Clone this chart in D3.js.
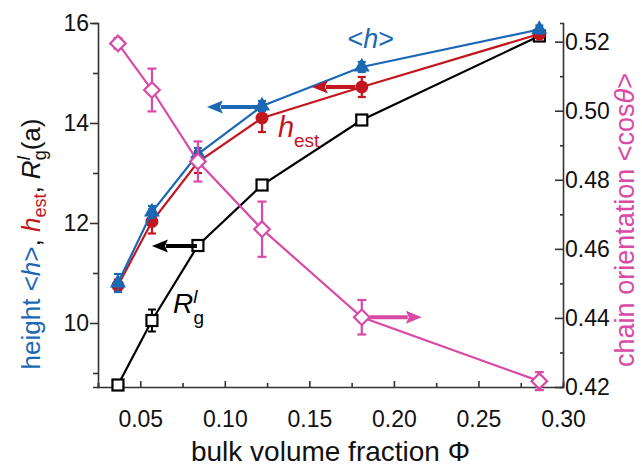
<!DOCTYPE html>
<html>
<head>
<meta charset="utf-8">
<script src="https://cdn.jsdelivr.net/npm/d3@7"></script>
<style>
  html, body { margin: 0; padding: 0; background: #fff; }
  svg { display: block; font-family: "Liberation Sans", Arial, Helvetica, sans-serif; }
</style>
</head>
<body>
<svg id="chart" width="642" height="468"></svg>
<script>
// Bulk volume fraction of each sample
const phi = [0.0368, 0.0569, 0.0841, 0.122, 0.181, 0.286];

// Left-axis series (height, in units of a)
const hMean   = [10.80, 12.22, 13.38, 14.34, 15.12, 15.87];
const hMeanErr = [0.18, 0.12, 0.12, 0.10, 0.10, 0.08];
const hEst    = [10.75, 12.03, 13.22, 14.10, 14.72, 15.78];
const hEstErr = [0.12, 0.24, 0.22, 0.28, 0.20, 0.08];
const rgPerp  = [8.76, 10.05, 11.55, 12.76, 14.06, 15.74];
const rgErr   = [0.04, 0.22, 0.05, 0.08, 0.10, 0.05];

// Right-axis series (chain orientation)
const cosTheta    = [0.5195, 0.5060, 0.4853, 0.4657, 0.4402, 0.4217];
const cosThetaErr = [0.0015, 0.0062, 0.0058, 0.0080, 0.0050, 0.0026];

// Tick values
const xMajor = [0.05, 0.10, 0.15, 0.20, 0.25, 0.30];
const xMinor = [0.025, 0.075, 0.125, 0.175, 0.225, 0.275];
const yLMajor = [10, 12, 14, 16];
const yLMinor = [9, 11, 13, 15];
const yRMajor = [0.42, 0.44, 0.46, 0.48, 0.50, 0.52];
const yRMinor = [0.43, 0.45, 0.47, 0.49, 0.51];

const BLUE = "#1b68b5", RED = "#c3161f", BLACK = "#000", PINK = "#d84aa6";

const svg = d3.select("#chart");
const x  = d3.scaleLinear().domain([0.025, 0.30]).range([98, 563]);
const yL = d3.scaleLinear().domain([8.72, 16]).range([387, 23]);
const yR = d3.scaleLinear().domain([0.42, 0.5254]).range([387, 23]);

const AXIS = "#333";

// ---- axes ----
function styleAxis(g) {
  g.select(".domain").attr("stroke", AXIS).attr("stroke-width", 1.6);
  g.selectAll(".tick line").attr("stroke", AXIS).attr("stroke-width", 1.6);
  g.selectAll(".tick text").attr("fill", "#111").style("font-size", "23px")
    .style("font-family", "'Liberation Sans', Arial, sans-serif");
}

// bottom axis: ticks point inward
const gx = svg.append("g").attr("transform", "translate(0,387)");
gx.call(d3.axisBottom(x).tickValues(xMinor).tickSize(-4).tickFormat(""))
  .call(styleAxis);
const gx2 = svg.append("g").attr("transform", "translate(0,387)");
gx2.call(d3.axisBottom(x).tickValues(xMajor).tickSize(-6).tickPadding(24).tickFormat(d3.format(".2f")))
  .call(styleAxis);
gx2.select(".domain").remove();

// left axis: ticks point outward
const gy = svg.append("g").attr("transform", "translate(98,0)");
gy.call(d3.axisLeft(yL).tickValues(yLMinor).tickSize(5).tickFormat("")).call(styleAxis);
const gy2 = svg.append("g").attr("transform", "translate(98,0)");
gy2.call(d3.axisLeft(yL).tickValues(yLMajor).tickSize(8).tickPadding(1).tickFormat(d3.format("d")))
  .call(styleAxis);
gy2.select(".domain").remove();

// right axis: ticks point inward, labels outside
const gr = svg.append("g").attr("transform", "translate(563,0)");
gr.call(d3.axisRight(yR).tickValues(yRMinor).tickSize(-3).tickFormat("")).call(styleAxis);
const gr2 = svg.append("g").attr("transform", "translate(563,0)");
gr2.call(d3.axisRight(yR).tickValues(yRMajor).tickSize(-8).tickPadding(2).tickFormat(d3.format(".2f")))
  .call(styleAxis);
gr2.select(".domain").remove();

// ---- axis titles ----
svg.append("text")
  .attr("x", (186 + 475) / 2).attr("y", 461)
  .attr("text-anchor", "middle").attr("fill", "#111")
  .style("font-size", "28px")
  .text("bulk volume fraction Φ");

const yTitle = svg.append("text")
  .attr("transform", "translate(40,244) rotate(-90)")
  .attr("text-anchor", "middle")
  .style("font-size", "26px");
yTitle.append("tspan").attr("fill", BLUE).text("height <");
yTitle.append("tspan").attr("fill", BLUE).style("font-style", "italic").text("h");
yTitle.append("tspan").attr("fill", BLUE).text(">");
yTitle.append("tspan").attr("fill", "#111").text(", ");
yTitle.append("tspan").attr("fill", RED).style("font-style", "italic").text("h");
yTitle.append("tspan").attr("fill", RED).attr("dy", 6).style("font-size", "18px").text("est");
yTitle.append("tspan").attr("fill", "#111").attr("dy", -6).text(", ");
yTitle.append("tspan").attr("fill", "#111").style("font-style", "italic").text("R");
yTitle.append("tspan").attr("fill", "#111").attr("dy", -10).style("font-size", "18px").style("font-style", "italic").text("l");
yTitle.append("tspan").attr("fill", "#111").attr("dx", -4).attr("dy", 16).style("font-size", "18px").text("g");
yTitle.append("tspan").attr("fill", "#111").attr("dy", -6).text("(a)");

const rTitle = svg.append("text")
  .attr("transform", "translate(634,220) rotate(-90)")
  .attr("text-anchor", "middle").attr("fill", PINK)
  .style("font-size", "27px");
rTitle.append("tspan").text("chain orientation <cos");
rTitle.append("tspan").style("font-style", "italic").text("θ");
rTitle.append("tspan").text(">");

// ---- series ----
const lineL = d3.line().x((d, i) => x(phi[i])).y(d => yL(d));
const lineR = d3.line().x((d, i) => x(phi[i])).y(d => yR(d));

function errorBars(vals, errs, yScale, color, cap, width) {
  const g = svg.append("g").attr("stroke", color).attr("stroke-width", width).attr("fill", "none");
  vals.forEach((v, i) => {
    const cx = x(phi[i]), y0 = yScale(v - errs[i]), y1 = yScale(v + errs[i]);
    g.append("line").attr("x1", cx).attr("x2", cx).attr("y1", y0).attr("y2", y1);
    g.append("line").attr("x1", cx - cap).attr("x2", cx + cap).attr("y1", y0).attr("y2", y0);
    g.append("line").attr("x1", cx - cap).attr("x2", cx + cap).attr("y1", y1).attr("y2", y1);
  });
}

// R_g (black open squares)
svg.append("path").datum(rgPerp).attr("d", lineL)
  .attr("fill", "none").attr("stroke", BLACK).attr("stroke-width", 2.2);
errorBars(rgPerp, rgErr, yL, BLACK, 4, 2);
svg.append("g").selectAll("rect").data(rgPerp).join("rect")
  .attr("x", (d, i) => x(phi[i]) - 5.5).attr("y", d => yL(d) - 5.5)
  .attr("width", 11).attr("height", 11)
  .attr("fill", "#fff").attr("stroke", BLACK).attr("stroke-width", 2.2);

// h_est (red filled circles)
svg.append("path").datum(hEst).attr("d", lineL)
  .attr("fill", "none").attr("stroke", RED).attr("stroke-width", 2.2);
errorBars(hEst, hEstErr, yL, RED, 4, 2.2);
svg.append("g").selectAll("circle").data(hEst).join("circle")
  .attr("cx", (d, i) => x(phi[i])).attr("cy", d => yL(d)).attr("r", 6.5)
  .attr("fill", RED);

// <h> (blue filled triangles)
svg.append("path").datum(hMean).attr("d", lineL)
  .attr("fill", "none").attr("stroke", BLUE).attr("stroke-width", 2.2);
errorBars(hMean, hMeanErr, yL, BLUE, 4, 2.2);
const tri = d3.symbol().type(d3.symbolTriangle).size(110);
svg.append("g").selectAll("path").data(hMean).join("path")
  .attr("transform", (d, i) => `translate(${x(phi[i])},${yL(d)})`)
  .attr("d", tri).attr("fill", BLUE);

// <cos θ> (pink open diamonds, right axis)
svg.append("path").datum(cosTheta).attr("d", lineR)
  .attr("fill", "none").attr("stroke", PINK).attr("stroke-width", 2.2);
errorBars(cosTheta, cosThetaErr, yR, PINK, 4.5, 2.2);
svg.append("g").selectAll("path").data(cosTheta).join("path")
  .attr("transform", (d, i) => `translate(${x(phi[i])},${yR(d)}) rotate(45)`)
  .attr("d", "M-5.5,-5.5H5.5V5.5H-5.5Z")
  .attr("fill", "#fff").attr("stroke", PINK).attr("stroke-width", 2.2);

// ---- arrows pointing to each series' axis ----
function arrow(x0, x1, yv, yScale, color) {
  const px0 = x(x0), px1 = x(x1), py = yScale(yv);
  const dir = Math.sign(px1 - px0);
  const head = 16;
  svg.append("line")
    .attr("x1", px0).attr("x2", px1 - dir * head + dir * 2).attr("y1", py).attr("y2", py)
    .attr("stroke", color).attr("stroke-width", 4);
  svg.append("path")
    .attr("d", `M${px1},${py} L${px1 - dir * head},${py - 6.5} L${px1 - dir * (head - 3)},${py} L${px1 - dir * head},${py + 6.5} Z`)
    .attr("fill", color);
}
arrow(0.122, 0.0894, 14.32, yL, BLUE);
arrow(0.177, 0.1515, 14.72, yL, RED);
arrow(0.0835, 0.0569, 11.54, yL, BLACK);
arrow(0.1858, 0.2165, 0.4402, yR, PINK);

// ---- series labels ----
const lh = svg.append("text").attr("x", x(0.1725)).attr("y", yL(15.5))
  .attr("fill", BLUE).style("font-size", "27px");
lh.append("tspan").text("<");
lh.append("tspan").style("font-style", "italic").text("h");
lh.append("tspan").text(">");

const le = svg.append("text").attr("x", x(0.1314)).attr("y", yL(13.72))
  .attr("fill", RED).style("font-size", "29px");
le.append("tspan").style("font-style", "italic").text("h");
le.append("tspan").attr("dy", 10).style("font-size", "19px").text("est");

const lr = svg.append("text").attr("x", x(0.0693)).attr("y", yL(10.2))
  .attr("fill", BLACK).style("font-size", "28px");
lr.append("tspan").style("font-style", "italic").text("R");
lr.append("tspan").attr("dy", -10).style("font-size", "19px").style("font-style", "italic").text("l");
lr.append("tspan").attr("dx", -4).attr("dy", 21).style("font-size", "19px").text("g");
</script>
</body>
</html>
